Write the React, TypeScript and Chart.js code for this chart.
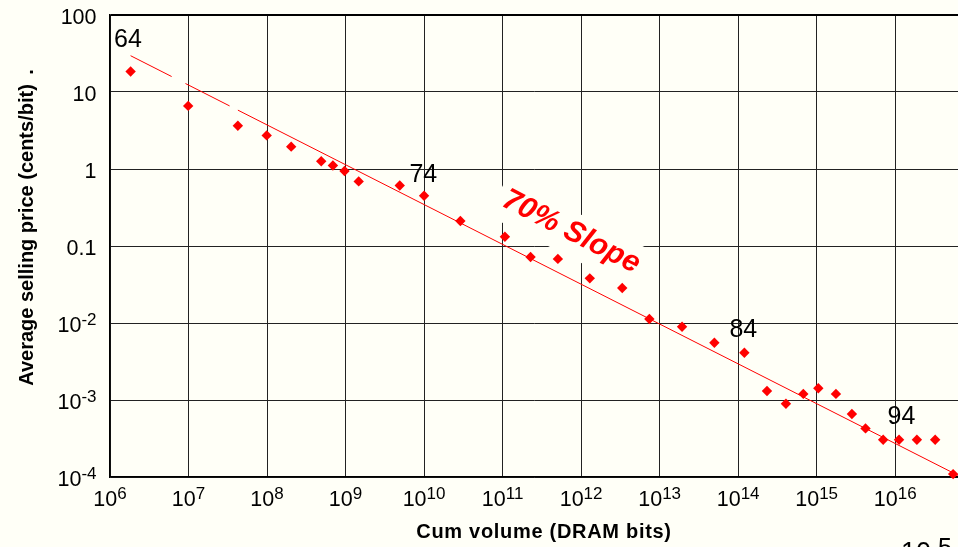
import React, { useEffect, useRef } from 'react';
import { Chart, registerables } from 'chart.js';

Chart.register(...registerables);

// ---- data ----
const cumVolume = [
  1.83e6, 9.9e6, 4.25e7, 9.9e7, 2.03e8, 4.9e8, 6.9e8, 9.7e8, 1.47e9, 4.9e9,
  1.0e10, 2.9e10, 1.07e11, 2.27e11, 5.06e11, 1.29e12, 3.34e12, 7.4e12, 1.93e13, 4.98e13,
  1.2e14, 2.33e14, 4.06e14, 6.76e14, 1.05e15, 1.76e15, 2.81e15, 4.19e15, 7.03e15, 1.12e16,
  1.89e16, 3.23e16, 5.47e16,
];
const avgPrice = [
  18.5, 6.6, 3.65, 2.73, 1.95, 1.26, 1.11, 0.94, 0.69, 0.61,
  0.45, 0.211, 0.132, 0.072, 0.068, 0.038, 0.0285, 0.01127, 0.00895, 0.00555,
  0.0041, 0.00131, 0.000895, 0.0012, 0.00142, 0.0012, 0.000658, 0.000428, 0.000305, 0.000305,
  0.000305, 0.000305, 0.000109,
];
const trendX = [1.83e6, 6.31e16];
const trendY = [29.6, 1.05e-4];

const xTickValues = [1e6, 1e7, 1e8, 1e9, 1e10, 1e11, 1e12, 1e13, 1e14, 1e15, 1e16];
const xTickExps = ['6', '7', '8', '9', '10', '11', '12', '13', '14', '15', '16'];
const yTickValues = [100, 10, 1, 0.1, 0.01, 0.001, 0.0001];
const yTickBases = ['100', '10', '1', '0.1', '10', '10', '10'];
const yTickExps = ['', '', '', '', '-2', '-3', '-4'];

const yearLabels = ['64', '74', '84', '94'];
const yearX = [1.125e6, 6.5e9, 7.74e13, 7.98e15];
const yearY = [38.0, 0.684, 0.00664, 0.000483];

const slopeLabel = '70% Slope';
const slopeX = 7.47e11;
const slopeY = 0.152;

const X_MIN = 1e6;
const X_MAX = 6.31e16;
const Y_MIN = 1e-4;
const Y_MAX = 100;

const FONT = '"Liberation Sans", Arial, Helvetica, sans-serif';
const BG = '#FFFFF7';
const RED = '#FF0000';

export default function App() {
  const ref = useRef<HTMLCanvasElement | null>(null);

  useEffect(() => {
    const canvas = ref.current;
    if (!canvas) return;

    const decor = {
      id: 'decor',
      beforeDraw(chart: any) {
        const ctx = chart.ctx;
        ctx.save();
        ctx.fillStyle = BG;
        ctx.fillRect(0, 0, chart.width, chart.height);
        ctx.restore();
      },
      beforeDatasetsDraw(chart: any) {
        const ctx = chart.ctx;
        const xs = chart.scales.x;
        const ys = chart.scales.y;
        const cx = xs.getPixelForValue(slopeX);
        const cy = ys.getPixelForValue(slopeY);
        const ang = (27 * Math.PI) / 180;
        ctx.save();
        ctx.translate(cx, cy);
        ctx.rotate(ang);
        ctx.fillStyle = BG;
        ctx.fillRect(-82, -20, 164, 43);
        ctx.fillStyle = RED;
        ctx.font = `italic bold 30px ${FONT}`;
        ctx.textAlign = 'center';
        ctx.textBaseline = 'middle';
        ctx.fillText(slopeLabel, 0, 0);
        ctx.restore();
      },
      afterDatasetsDraw(chart: any) {
        const ctx = chart.ctx;
        const xs = chart.scales.x;
        const ys = chart.scales.y;
        ctx.save();
        ctx.fillStyle = '#000';
        ctx.textBaseline = 'alphabetic';

        // x tick labels
        xTickValues.forEach((v, i) => {
          const px = xs.getPixelForValue(v);
          ctx.font = `21.5px ${FONT}`;
          const bw = ctx.measureText('10').width;
          ctx.font = `17px ${FONT}`;
          const sw = ctx.measureText(xTickExps[i]).width;
          const left = px - (bw + sw) / 2;
          ctx.textAlign = 'left';
          ctx.font = `21.5px ${FONT}`;
          ctx.fillText('10', left, 506);
          ctx.font = `17px ${FONT}`;
          ctx.fillText(xTickExps[i], left + bw, 499);
        });

        // y tick labels
        const yRight = 96.5;
        yTickValues.forEach((v, i) => {
          const py = ys.getPixelForValue(v);
          const exp = yTickExps[i];
          if (!exp) {
            ctx.font = `21.5px ${FONT}`;
            ctx.textAlign = 'right';
            ctx.fillText(yTickBases[i], yRight, py + 8.5);
          } else {
            ctx.font = `17px ${FONT}`;
            const sw = ctx.measureText(exp).width;
            ctx.textAlign = 'left';
            ctx.fillText(exp, yRight - sw, py + 2);
            ctx.font = `21.5px ${FONT}`;
            ctx.textAlign = 'right';
            ctx.fillText(yTickBases[i], yRight - sw, py + 9);
          }
        });

        // year annotations
        ctx.font = `25px ${FONT}`;
        ctx.textAlign = 'left';
        yearLabels.forEach((t, i) => {
          ctx.fillText(t, xs.getPixelForValue(yearX[i]), ys.getPixelForValue(yearY[i]));
        });

        // axis titles
        ctx.font = `bold 20px ${FONT}`;
        ctx.textAlign = 'center';
        ctx.save();
        ctx.translate(33, 235);
        ctx.rotate(-Math.PI / 2);
        ctx.fillText('Average selling price (cents/bit)', 0, 0);
        ctx.restore();
        ctx.save();
        ctx.translate(33, 72);
        ctx.rotate(-Math.PI / 2);
        ctx.fillText('.', 0, 0);
        ctx.restore();

        (ctx as any).letterSpacing = '0.7px';
        ctx.fillText('Cum volume (DRAM bits)', 544, 538);
        (ctx as any).letterSpacing = '0px';

        // stray label at the bottom right
        ctx.textAlign = 'left';
        ctx.font = `27px ${FONT}`;
        ctx.fillText('10', 901, 561);
        ctx.font = `25px ${FONT}`;
        ctx.fillText('5', 938, 556);

        ctx.restore();
      },
    };

    const chart = new Chart(canvas, {
      type: 'scatter',
      data: {
        datasets: [
          {
            label: 'trend',
            data: trendX.map((x, i) => ({ x, y: trendY[i] })),
            showLine: true,
            borderColor: RED,
            borderWidth: 1,
            borderDash: [46, 15.5, 49.5, 9.3, 3000],
            pointRadius: 0,
            pointHoverRadius: 0,
            clip: false as any,
            order: 2,
          },
          {
            label: 'ASP',
            data: cumVolume.map((x, i) => ({ x, y: avgPrice[i] })),
            showLine: false,
            pointStyle: 'rectRot',
            pointRadius: 5.2,
            pointHoverRadius: 5.2,
            backgroundColor: RED,
            borderColor: RED,
            borderWidth: 0,
            clip: false as any,
            order: 1,
          },
        ],
      },
      options: {
        animation: false,
        responsive: false,
        devicePixelRatio: 1,
        events: [],
        layout: { autoPadding: false, padding: { left: 110, top: 15, right: 0, bottom: 70 } },
        plugins: {
          legend: { display: false },
          tooltip: { enabled: false },
        },
        scales: {
          x: {
            type: 'logarithmic',
            min: X_MIN,
            max: X_MAX,
            afterBuildTicks: (s: any) => {
              s.ticks = xTickValues.map((v) => ({ value: v }));
            },
            ticks: { display: false },
            grid: { color: '#222', lineWidth: 1, drawTicks: false },
            border: { color: '#000', width: 1.5 },
          },
          y: {
            type: 'logarithmic',
            min: Y_MIN,
            max: Y_MAX,
            afterBuildTicks: (s: any) => {
              s.ticks = yTickValues.map((v) => ({ value: v }));
            },
            ticks: { display: false },
            grid: {
              color: (c: any) => (c.tick && c.tick.value === 100 ? '#000' : '#222'),
              lineWidth: (c: any) => (c.tick && c.tick.value === 100 ? 2 : 1),
              drawTicks: false,
            },
            border: { color: '#000', width: 1.5 },
          },
        },
      },
      plugins: [decor],
    } as any);

    return () => {
      chart.destroy();
    };
  }, []);

  return (
    <div style={{ position: 'absolute', left: 0, top: 0, width: 958, height: 547, background: BG }}>
      <canvas ref={ref} width={958} height={547} style={{ display: 'block' }} />
    </div>
  );
}
